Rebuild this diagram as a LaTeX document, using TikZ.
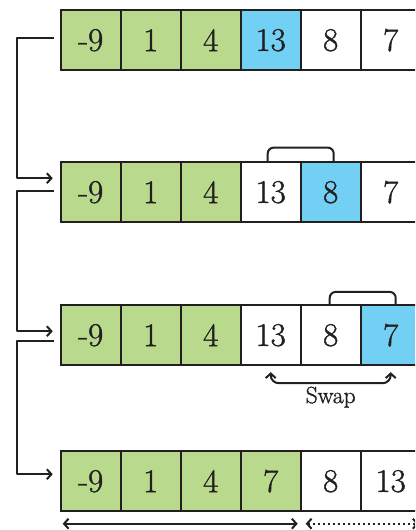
\documentclass[tikz,border=0pt]{standalone}
\usepackage{fontspec}
\newfontfamily\cellfont{Latin Modern Roman 10 Regular}[FakeBold=1.2]
\usepackage{tikz}
\usetikzlibrary{arrows.meta, positioning}
\usepackage{xcolor}
\definecolor{Ink}{HTML}{231F20}
\definecolor{LiteGreen}{HTML}{B9DA8C}
\definecolor{LiteBlue}{HTML}{73D0F5}
\tikzset{%
  cell/.style={%
    rectangle,%
    draw=Ink,%
    line width=2pt,%
    minimum width=60,%
    minimum height=60,%
    inner sep=0pt,%
    outer sep=0pt,%
    text=Ink,%
    font={\cellfont\fontsize{33}{36}\selectfont},%
  },
  sorted/.style={%
    cell,%
    fill=LiteGreen,%
  },
  current/.style={%
    cell,%
    fill=LiteBlue,%
  },
  smooth_path/.style={%
    color=Ink,%
    line join=round,%
    line width=2pt,%
  },
  bracket_path/.style={%
    smooth_path,%
    rounded corners=6pt,%
  },
  arrow/.style={-{Straight Barb[length=4.5pt, width=10pt]}},
  both_arrow/.style={{Straight Barb[length=4.5pt, width=10pt]}-{Straight Barb[length=4.5pt, width=10pt]}},
  annotate/.style={%
    text=Ink,%
    font={\cellfont\fontsize{23.5}{26}\selectfont},%
  },
}

\begin{document}
\begin{tikzpicture}[x=1pt, y=1pt]
  \useasboundingbox (0,0) rectangle (415,-530);
  \clip (0,0) rectangle (415,-530);

  % first pass
  \node [sorted] (Row1_1) at (90.7,-40.2) {-9};
  \node [sorted, right = 0 of Row1_1] (Row1_2) {1};
  \node [sorted, right = 0 of Row1_2] (Row1_3) {4};
  \node [current, right = 0 of Row1_3] (Row1_4) {13};
  \node [cell, right = 0 of Row1_4] (Row1_5) {8};
  \node [cell, right = 0 of Row1_5] (Row1_6) {7};

  % second pass
  \node [sorted, below = 92 of Row1_1] (Row2_1) {-9};
  \node [sorted, right = 0 of Row2_1] (Row2_2) {1};
  \node [sorted, right = 0 of Row2_2] (Row2_3) {4};
  \node [cell, right = 0 of Row2_3] (Row2_4) {13};
  \node [current, right = 0 of Row2_4] (Row2_5) {8};
  \node [cell, right = 0 of Row2_5] (Row2_6) {7};

  % third pass
  \node [sorted, below = 83 of Row2_1] (Row3_1) {-9};
  \node [sorted, right = 0 of Row3_1] (Row3_2) {1};
  \node [sorted, right = 0 of Row3_2] (Row3_3) {4};
  \node [cell, right = 0 of Row3_3] (Row3_4) {13};
  \node [cell, right = 0 of Row3_4] (Row3_5) {8};
  \node [current, right = 0 of Row3_5] (Row3_6) {7};

  % after the swap
  \node [sorted, below = 86 of Row3_1] (Row4_1) {-9};
  \node [sorted, right = 0 of Row4_1] (Row4_2) {1};
  \node [sorted, right = 0 of Row4_2] (Row4_3) {4};
  \node [sorted, right = 0 of Row4_3] (Row4_4) {7};
  \node [cell, right = 0 of Row4_4] (Row4_5) {8};
  \node [cell, right = 0 of Row4_5] (Row4_6) {13};

  \node [annotate] (swap) at ([yshift=-32]Row3_5.south) {Swap};

  \draw [arrow, smooth_path]
    ([shift={(-7,2)}]Row1_1.west)
    -- ++(-37,0)
    |- ([shift={(-8,14)}]Row2_1.west);
  \draw [arrow, smooth_path]
    ([shift={(-7,1)}]Row2_1.west)
    -- ++(-37,0)
    |- ([shift={(-8,4)}]Row3_1.west);
  \draw [arrow, smooth_path]
    ([shift={(-7,-6)}]Row3_1.west)
    -- ++(-37,0)
    |- ([shift={(-8,7)}]Row4_1.west);

  \draw [bracket_path]
    ([xshift=-3]Row2_4.north)
    -- ++(0,14.6)
    -| ([xshift=3]Row2_5.north);
  \draw [bracket_path]
    ([xshift=-1]Row3_5.north)
    -- ++(0,13.3)
    -| ([xshift=5]Row3_6.north);

  \draw [both_arrow, smooth_path, rounded corners=8pt]
    ([yshift=-7]Row3_4.south)
    |- ([yshift=-18]Row3_5.south)
    -| ([yshift=-7]Row3_6.south);

  \draw [both_arrow, smooth_path]
    ([shift={(2,-12.5)}]Row4_1.south west)
    --
    ([shift={(-3,-12.5)}]Row4_4.south east);
  \draw [both_arrow, smooth_path, dash pattern={on 1.5pt off 3.5pt}]
    ([shift={(5,-12.5)}]Row4_5.south west)
    --
    ([shift={(-2,-12.5)}]Row4_6.south east);
\end{tikzpicture}
\end{document}
